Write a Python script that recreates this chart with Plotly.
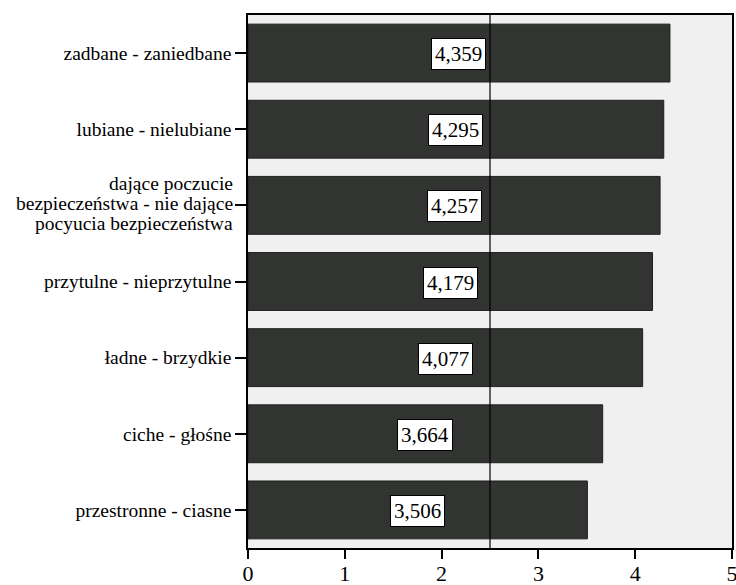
import plotly.graph_objects as go

categories = [
    "zadbane - zaniedbane",
    "lubiane - nielubiane",
    "dające poczucie<br>bezpieczeństwa - nie dające<br>pocyucia bezpieczeństwa",
    "przytulne - nieprzytulne",
    "ładne - brzydkie",
    "ciche - głośne",
    "przestronne - ciasne",
]
values = [4.359, 4.295, 4.257, 4.179, 4.077, 3.664, 3.506]
value_labels = ["4,359", "4,295", "4,257", "4,179", "4,077", "3,664", "3,506"]
x_ticks = [0, 1, 2, 3, 4, 5]
midpoint = 2.5

font_family = "Liberation Serif"
cat_size = 19.5
line_gap = 20  # px between lines of a wrapped category label

positions = list(range(len(categories)))

fig = go.Figure()
fig.add_trace(go.Bar(
    x=values,
    y=positions,
    orientation="h",
    width=0.76,
    marker=dict(color="#323432", line=dict(color="#1e1f1e", width=1)),
    hoverinfo="skip",
))

# category labels: single-line ones as tick text, wrapped ones as tightly spaced annotations
tick_text = []
for pos, cat in zip(positions, categories):
    lines = cat.split("<br>")
    if len(lines) == 1:
        tick_text.append(cat)
        continue
    tick_text.append("")
    mid = (len(lines) - 1) / 2
    for i, line in enumerate(lines):
        fig.add_annotation(
            x=0, xref="paper", y=pos, yref="y",
            xanchor="right", yanchor="middle",
            xshift=-13, yshift=(mid - i) * line_gap + 2,
            text=line, showarrow=False,
            font=dict(family=font_family, size=cat_size, color="black"),
        )

# value boxes centred on each bar
for pos, v, lab in zip(positions, values, value_labels):
    fig.add_annotation(
        x=v / 2, y=pos, text=lab, showarrow=False, yshift=-1,
        font=dict(family=font_family, size=21, color="black"),
        bgcolor="white", bordercolor="black", borderwidth=1, borderpad=3,
    )

# vertical reference line at the scale midpoint
fig.add_shape(
    type="line", xref="x", yref="paper",
    x0=midpoint, x1=midpoint, y0=0, y1=1,
    line=dict(color="black", width=1.2), layer="above",
)

fig.update_layout(
    template="none",
    width=736, height=585,
    margin=dict(l=248, r=4, t=15, b=37),
    paper_bgcolor="white",
    plot_bgcolor="#eff0ef",
    showlegend=False,
    font=dict(family=font_family, color="black"),
)
fig.update_xaxes(
    automargin=False,
    range=[0, 5], tickvals=x_ticks, ticktext=[str(t) for t in x_ticks],
    showgrid=False, zeroline=False,
    showline=True, linecolor="black", linewidth=1.5, mirror=True,
    ticks="outside", ticklen=9, tickcolor="black", tickwidth=1.5,
    tickfont=dict(family=font_family, size=22, color="black"),
    ticklabeloverflow="allow", ticklabelstandoff=-4,
)
fig.update_yaxes(
    automargin=False,
    range=[len(categories) - 0.5, -0.5],
    tickvals=positions, ticktext=tick_text,
    showgrid=False, zeroline=False,
    showline=True, linecolor="black", linewidth=1.5, mirror=True,
    ticks="outside", ticklen=11, tickcolor="black", tickwidth=1.5,
    tickfont=dict(family=font_family, size=cat_size, color="black"),
    ticklabelstandoff=0,
)

fig.write_html("out.html")
